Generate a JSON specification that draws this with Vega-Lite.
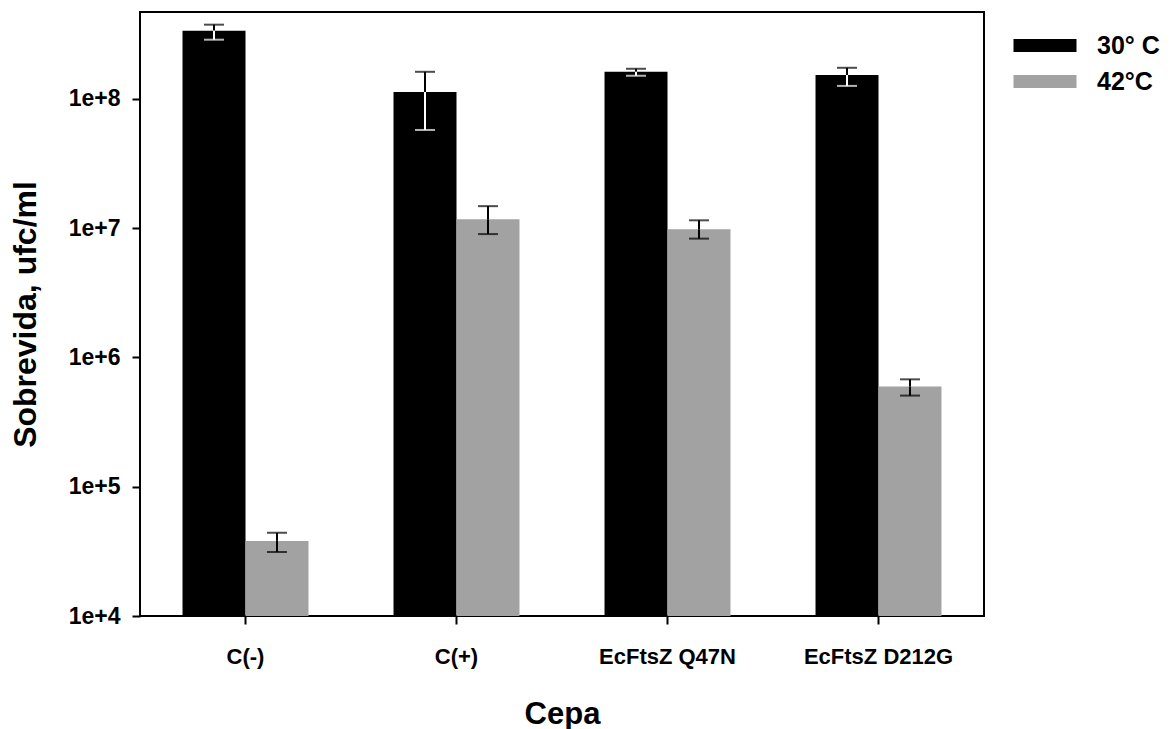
{
  "$schema": "https://vega.github.io/schema/vega-lite/v6.json",
  "width": 844,
  "height": 604,
  "autosize": "none",
  "padding": {"left": 140, "top": 12, "right": 188, "bottom": 113},
  "background": "white",
  "config": {
    "font": "Liberation Sans",
    "view": {"stroke": "black", "strokeWidth": 2},
    "axis": {"grid": false, "domain": false, "tickColor": "black", "tickWidth": 2, "labelColor": "black", "titleColor": "black"}
  },
  "data": {
    "values": [
      {"cepa": "C(-)", "temp": "30° C", "value": 3.37e8, "lo": 2.87e8, "hi": 3.75e8},
      {"cepa": "C(-)", "temp": "42°C", "value": 3.81e4, "lo": 3.13e4, "hi": 4.4e4},
      {"cepa": "C(+)", "temp": "30° C", "value": 1.13e8, "lo": 5.75e7, "hi": 1.62e8},
      {"cepa": "C(+)", "temp": "42°C", "value": 1.17e7, "lo": 9.0e6, "hi": 1.48e7},
      {"cepa": "EcFtsZ Q47N", "temp": "30° C", "value": 1.62e8, "lo": 1.51e8, "hi": 1.71e8},
      {"cepa": "EcFtsZ Q47N", "temp": "42°C", "value": 9.8e6, "lo": 8.3e6, "hi": 1.15e7},
      {"cepa": "EcFtsZ D212G", "temp": "30° C", "value": 1.53e8, "lo": 1.26e8, "hi": 1.74e8},
      {"cepa": "EcFtsZ D212G", "temp": "42°C", "value": 5.96e5, "lo": 5.07e5, "hi": 6.77e5}
    ]
  },
  "encoding": {
    "x": {
      "field": "cepa", "type": "nominal", "sort": null,
      "scale": {"paddingInner": 0.403, "paddingOuter": 0.2015},
      "axis": {"title": "Cepa", "labelAngle": 0, "labelFontSize": 22, "labelFontWeight": "bold", "labelPadding": 22, "tickSize": 8, "titleFontSize": 31, "titleFontWeight": "bold", "titlePadding": 32}
    },
    "xOffset": {"field": "temp", "type": "nominal", "sort": ["30° C", "42°C"], "scale": {"paddingInner": 0, "paddingOuter": 0}}
  },
  "layer": [
    {
      "mark": {"type": "bar", "strokeWidth": 0},
      "encoding": {
        "y": {
          "field": "value", "type": "quantitative", "stack": null,
          "scale": {"type": "log", "domain": [10000, 470000000], "nice": false},
          "axis": {"title": "Sobrevida, ufc/ml", "values": [10000, 100000, 1000000, 10000000, 100000000], "labelExpr": "'1e+' + round(log(datum.value)/LN10)", "labelFontSize": 23, "labelFontWeight": "bold", "labelPadding": 12, "tickSize": 8, "titleFontSize": 32, "titleFontWeight": "bold", "titlePadding": 26}
        },
        "y2": {"datum": 10000},
        "color": {
          "field": "temp", "type": "nominal", "sort": ["30° C", "42°C"],
          "scale": {"domain": ["30° C", "42°C"], "range": ["#000000", "#a2a2a2"]},
          "legend": {
            "title": null, "orient": "none", "legendX": 868, "legendY": 21,
            "symbolType": "M-1,-0.93H8V0.93H-1Z", "symbolSize": 196, "symbolStrokeWidth": 0,
            "labelFontSize": 25, "labelFontWeight": "bold", "labelColor": "black", "labelOffset": 64, "rowPadding": 10
          }
        }
      }
    },
    {
      "mark": {"type": "rule", "color": "black", "strokeWidth": 2},
      "encoding": {"y": {"field": "value", "type": "quantitative"}, "y2": {"field": "hi"}}
    },
    {
      "transform": [{"filter": "datum.temp == '30° C'"}],
      "mark": {"type": "rule", "color": "white", "strokeWidth": 2},
      "encoding": {"y": {"field": "lo", "type": "quantitative"}, "y2": {"field": "value"}}
    },
    {
      "transform": [{"filter": "datum.temp == '42°C'"}],
      "mark": {"type": "rule", "color": "black", "strokeWidth": 2},
      "encoding": {"y": {"field": "lo", "type": "quantitative"}, "y2": {"field": "value"}}
    },
    {
      "mark": {"type": "tick", "color": "black", "thickness": 2, "size": 20, "orient": "horizontal"},
      "encoding": {"y": {"field": "hi", "type": "quantitative"}}
    },
    {
      "transform": [{"filter": "datum.temp == '30° C'"}],
      "mark": {"type": "tick", "color": "white", "thickness": 2, "size": 20, "orient": "horizontal"},
      "encoding": {"y": {"field": "lo", "type": "quantitative"}}
    },
    {
      "transform": [{"filter": "datum.temp == '42°C'"}],
      "mark": {"type": "tick", "color": "black", "thickness": 2, "size": 20, "orient": "horizontal"},
      "encoding": {"y": {"field": "lo", "type": "quantitative"}}
    }
  ]
}
